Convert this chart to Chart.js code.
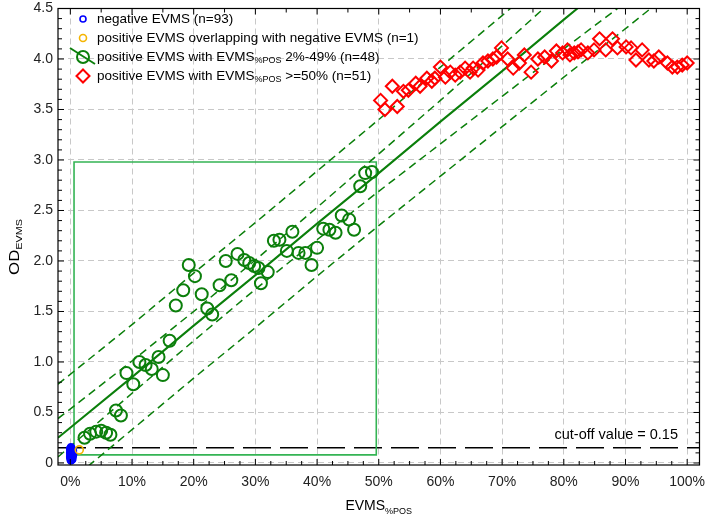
<!DOCTYPE html>
<html><head><meta charset="utf-8">
<script src="https://cdn.jsdelivr.net/npm/chart.js@4.4.1/dist/chart.umd.min.js"></script>
<style>html,body{margin:0;padding:0;background:#fff;}#wrap{width:708px;height:524px;}</style>
</head><body><div id="wrap"><canvas id="c" width="708" height="524"></canvas></div>
<script>
// ---- data ----
const xTicks = [0,10,20,30,40,50,60,70,80,90,100];
const xTickLabels = ['0%','10%','20%','30%','40%','50%','60%','70%','80%','90%','100%'];
const yTicks = [0,0.5,1.0,1.5,2.0,2.5,3.0,3.5,4.0,4.5];
const yTickLabels = ['0','0.5','1.0','1.5','2.0','2.5','3.0','3.5','4.0','4.5'];

// negative EVMS (n=93) – tightly overlapping cluster at 0%
const negX = [0,0,0,0,0,0,0,0,0,0,0.2,0.2,0.2,0.2,0.2,0.2,0.2,0.2,0.4,0.4,0.4,0.4,0.4,0.4,0.1,0.1,0.1,0.1,0.3,0.3,0.3,0.3,-0.1,-0.1,-0.1,0.5,0.5];
const negY = [0.03,0.05,0.07,0.09,0.11,0.13,0.15,0.04,0.08,0.12,0.03,0.06,0.09,0.12,0.15,0.05,0.10,0.14,0.04,0.07,0.10,0.13,0.06,0.11,0.02,0.08,0.14,0.16,0.05,0.09,0.12,0.03,0.06,0.10,0.14,0.08,0.12];

// positive EVMS overlapping with negative EVMS (n=1)
const ovX = [1.45];
const ovY = [0.13];

// positive EVMS with EVMS%POS 2%-49%
const midX = [2.3,3.2,4.2,5.0,5.8,6.5,7.4,8.2,9.1,10.2,11.2,12.2,13.2,14.3,15.0,16.1,17.1,18.3,19.2,20.2,21.3,22.2,23.0,24.2,25.2,26.1,27.1,28.2,29.0,29.8,30.5,30.9,32.0,33.0,33.9,35.1,36.0,37.0,38.1,39.1,40.0,41.0,42.0,43.0,44.0,45.2,46.0,47.0,47.8,48.9];
const midY = [0.25,0.29,0.31,0.32,0.30,0.28,0.52,0.47,0.89,0.78,1.00,0.97,0.93,1.05,0.87,1.21,1.56,1.71,1.96,1.85,1.67,1.53,1.47,1.76,2.00,1.81,2.07,2.01,1.98,1.95,1.93,1.78,1.89,2.20,2.21,2.10,2.29,2.08,2.08,1.96,2.13,2.32,2.31,2.28,2.45,2.41,2.31,2.74,2.87,2.88];

// positive EVMS with EVMS%POS >=50%
const highX = [50.3,51.0,52.2,53.0,54.0,54.8,56.0,56.7,57.8,58.6,59.1,60.0,60.8,61.6,62.4,63.2,64.0,64.8,65.3,66.1,66.9,67.7,68.5,69.1,69.9,70.9,71.8,72.8,73.6,74.7,75.8,76.9,78.0,78.8,79.8,80.6,81.0,81.7,82.3,82.8,83.9,84.9,85.8,86.8,87.9,88.7,90.1,90.9,91.7,92.7,93.8,94.6,95.4,96.8,97.6,98.4,99.2,100.0];
const highY = [3.59,3.50,3.73,3.53,3.68,3.69,3.76,3.73,3.81,3.78,3.81,3.92,3.82,3.87,3.84,3.87,3.91,3.87,3.91,3.89,3.96,3.98,4.00,4.02,4.11,4.00,3.91,3.96,4.04,3.87,4.00,4.02,3.98,4.08,4.06,4.09,4.04,4.06,4.07,4.09,4.06,4.09,4.20,4.09,4.20,4.11,4.12,4.11,3.99,4.09,3.99,3.98,4.02,3.96,3.92,3.92,3.94,3.96];

// regression line with confidence (inner) and prediction (outer) bands
const bandX      = [-2,   10,   20,   30,   40,   50,   60,   70,   80,   90,   100];
const regY       = [0.25, 0.85, 1.36, 1.86, 2.37, 2.87, 3.38, 3.88, 4.39, 4.89, 5.40];
const upInnerY   = [0.44, 1.01, 1.50, 2.01, 2.53, 3.06, 3.59, 4.13, 4.68, 5.23, 5.77];
const loInnerY   = [0.06, 0.69, 1.21, 1.72, 2.21, 2.69, 3.16, 3.63, 4.10, 4.56, 5.02];
const upOuterY   = [0.78, 1.37, 1.88, 2.38, 2.89, 3.40, 3.92, 4.43, 4.95, 5.48, 6.00];
const loOuterY   = [-0.28,0.33, 0.84, 1.34, 1.85, 2.35, 2.84, 3.33, 3.82, 4.30, 4.79];

// green selection box and cut-off line
const boxX = [0.6, 49.6, 49.6, 0.6, 0.6];
const boxY = [0.08, 0.08, 2.98, 2.98, 0.08];
const cutX = [-2, 102];
const cutY = [0.15, 0.15];

// ---- chart ----
const FAM = '"Liberation Sans", Arial, sans-serif';
const DKG = '#0b7f0b';
const pts = (xs, ys) => xs.map((v, i) => ({x: v, y: ys[i]}));

function lineDs(ys, color, width, dash) {
  return {data: pts(bandX, ys), showLine: true, borderColor: color, borderWidth: width,
    borderDash: dash, pointRadius: 0, fill: false, clip: 0, tension: 0};
}

function drawRich(ctx, segs, x, y, size, subSize, subShift) {
  let cx = x;
  for (const s of segs) {
    ctx.font = (s.sub ? subSize : size) + 'px ' + FAM;
    ctx.fillText(s.t, cx, y + (s.sub ? subShift : 0));
    cx += ctx.measureText(s.t).width;
  }
  return cx - x;
}
function richWidth(ctx, segs, size, subSize) {
  let w = 0;
  for (const s of segs) { ctx.font = (s.sub ? subSize : size) + 'px ' + FAM; w += ctx.measureText(s.t).width; }
  return w;
}

const legendRows = [
  {kind: 'blue', segs: [{t: 'negative EVMS (n=93)'}]},
  {kind: 'orange', segs: [{t: 'positive EVMS overlapping with negative EVMS (n=1)'}]},
  {kind: 'green', segs: [{t: 'positive EVMS with EVMS'}, {t: '%POS', sub: true}, {t: ' 2%-49% (n=48)'}]},
  {kind: 'red', segs: [{t: 'positive EVMS with EVMS'}, {t: '%POS', sub: true}, {t: ' >=50% (n=51)'}]}
];

const deco = {
  id: 'deco',
  afterDraw(chart) {
    const {ctx, chartArea: a, scales: {x, y}} = chart;
    ctx.save();
    // frame
    ctx.strokeStyle = '#000'; ctx.lineWidth = 1.2; ctx.setLineDash([]);
    ctx.strokeRect(a.left, a.top, a.right - a.left, a.bottom - a.top);
    // inward ticks
    ctx.lineWidth = 1;
    ctx.beginPath();
    for (let i = 0; i <= 40; i++) {
      const v = i * 2.5; const px = x.getPixelForValue(v);
      const L = (i % 4 === 0) ? 6 : 4;
      ctx.moveTo(px, a.bottom); ctx.lineTo(px, a.bottom - L);
      if (i % 2 === 0) { ctx.moveTo(px, a.top); ctx.lineTo(px, a.top + L); }
    }
    for (let i = 0; i <= 45; i++) {
      const v = i * 0.1; const py = y.getPixelForValue(v);
      const L = (i % 5 === 0) ? 6 : 4;
      ctx.moveTo(a.left, py); ctx.lineTo(a.left + L, py);
      ctx.moveTo(a.right, py); ctx.lineTo(a.right - L, py);
    }
    ctx.stroke();

    // legend
    ctx.fillStyle = '#000'; ctx.textBaseline = 'middle'; ctx.textAlign = 'left';
    const mx = 83, tx = 97, rowY = [19, 38, 57, 76];
    legendRows.forEach((r, i) => {
      const cy = rowY[i];
      ctx.setLineDash([]);
      if (r.kind === 'blue') {
        ctx.strokeStyle = '#0000ff'; ctx.lineWidth = 1.6;
        ctx.beginPath(); ctx.arc(mx, cy, 3, 0, Math.PI * 2); ctx.stroke();
      } else if (r.kind === 'orange') {
        ctx.strokeStyle = '#f5b400'; ctx.lineWidth = 1.6;
        ctx.beginPath(); ctx.arc(mx, cy, 3.5, 0, Math.PI * 2); ctx.stroke();
      } else if (r.kind === 'green') {
        ctx.strokeStyle = DKG; ctx.lineWidth = 2;
        ctx.beginPath(); ctx.moveTo(70, cy - 9); ctx.lineTo(95, cy + 7); ctx.stroke();
        ctx.beginPath(); ctx.arc(mx, cy, 6, 0, Math.PI * 2); ctx.stroke();
      } else {
        ctx.strokeStyle = '#ff0000'; ctx.lineWidth = 2;
        ctx.beginPath(); ctx.moveTo(mx, cy - 6.5); ctx.lineTo(mx + 6.5, cy); ctx.lineTo(mx, cy + 6.5); ctx.lineTo(mx - 6.5, cy); ctx.closePath(); ctx.stroke();
      }
      ctx.fillStyle = '#000';
      drawRich(ctx, r.segs, tx, cy, 13.5, 9, 4);
    });

    // cut-off label
    ctx.textBaseline = 'alphabetic'; ctx.textAlign = 'right';
    ctx.font = '14.5px ' + FAM;
    ctx.fillText('cut-off value = 0.15', 678, 439);

    // x title
    ctx.textAlign = 'left';
    const xs = [{t: 'EVMS'}, {t: '%POS', sub: true}];
    const xw = richWidth(ctx, xs, 14, 9);
    drawRich(ctx, xs, (a.left + a.right) / 2 - xw / 2, 510, 14, 9, 4);

    // y title (rotated)
    const ys = [{t: 'OD'}, {t: 'EVMS', sub: true}];
    ctx.save();
    ctx.translate(19, 247);
    ctx.rotate(-Math.PI / 2);
    ctx.scale(1.2, 1);
    const yw = richWidth(ctx, ys, 14, 9);
    drawRich(ctx, ys, -yw / 2, 0, 14, 9, 3);
    ctx.restore();

    ctx.restore();
  }
};

new Chart(document.getElementById('c'), {
  type: 'scatter',
  data: {
    datasets: [
      {data: pts(ovX, ovY), pointStyle: 'circle', pointRadius: 4, pointBorderColor: '#f5b400', pointBackgroundColor: 'rgba(0,0,0,0)', pointBorderWidth: 1.6, clip: false},
      {data: pts(negX, negY), pointStyle: 'circle', pointRadius: 3, pointBorderColor: '#0000ff', pointBackgroundColor: 'rgba(0,0,0,0)', pointBorderWidth: 1.6, clip: false},
      {data: pts(midX, midY), pointStyle: 'circle', pointRadius: 6, pointBorderColor: DKG, pointBackgroundColor: 'rgba(0,0,0,0)', pointBorderWidth: 2, clip: false},
      {data: pts(highX, highY), pointStyle: 'rectRot', pointRadius: 6.5, pointBorderColor: '#ff0000', pointBackgroundColor: 'rgba(0,0,0,0)', pointBorderWidth: 2, clip: false},
      lineDs(regY, DKG, 2, []),
      lineDs(upInnerY, DKG, 1.5, [8, 5]),
      lineDs(loInnerY, DKG, 1.5, [8, 5]),
      lineDs(upOuterY, DKG, 1.5, [8, 5]),
      lineDs(loOuterY, DKG, 1.5, [8, 5]),
      {data: pts(boxX, boxY), showLine: true, borderColor: '#34b454', borderWidth: 1.6, pointRadius: 0, fill: false, clip: 0},
      {data: pts(cutX, cutY), showLine: true, borderColor: '#000', borderWidth: 1.5, borderDash: [28, 9], pointRadius: 0, fill: false, clip: 0}
    ]
  },
  options: {
    responsive: false,
    animation: false,
    devicePixelRatio: 1,
    layout: {padding: {top: 8, right: 6, left: 0, bottom: 0}},
    plugins: {legend: {display: false}, tooltip: {enabled: false}},
    scales: {
      x: {
        type: 'linear', min: -2, max: 102,
        afterBuildTicks: s => { s.ticks = xTicks.map(v => ({value: v})); },
        afterFit: s => { s.height = 59; s.paddingLeft = 0; s.paddingRight = 0; s.paddingTop = 0; s.paddingBottom = 0; },
        ticks: {callback: v => xTickLabels[xTicks.indexOf(v)], font: {family: FAM, size: 14}, color: '#222', padding: 9, maxRotation: 0, autoSkip: false},
        grid: {color: '#c8c8c8', lineWidth: 1, drawTicks: false},
        border: {display: false, dash: [6, 4]}
      },
      y: {
        type: 'linear', min: -0.02, max: 4.5,
        afterBuildTicks: s => { s.ticks = yTicks.map(v => ({value: v})); },
        afterFit: s => { s.width = 58; s.paddingLeft = 0; s.paddingRight = 0; s.paddingTop = 0; s.paddingBottom = 0; },
        ticks: {callback: v => yTickLabels[yTicks.indexOf(v)], font: {family: FAM, size: 14}, color: '#222', padding: 5, autoSkip: false},
        grid: {color: '#c8c8c8', lineWidth: 1, drawTicks: false},
        border: {display: false, dash: [6, 4]}
      }
    }
  },
  plugins: [deco]
});
</script>
</body></html>
